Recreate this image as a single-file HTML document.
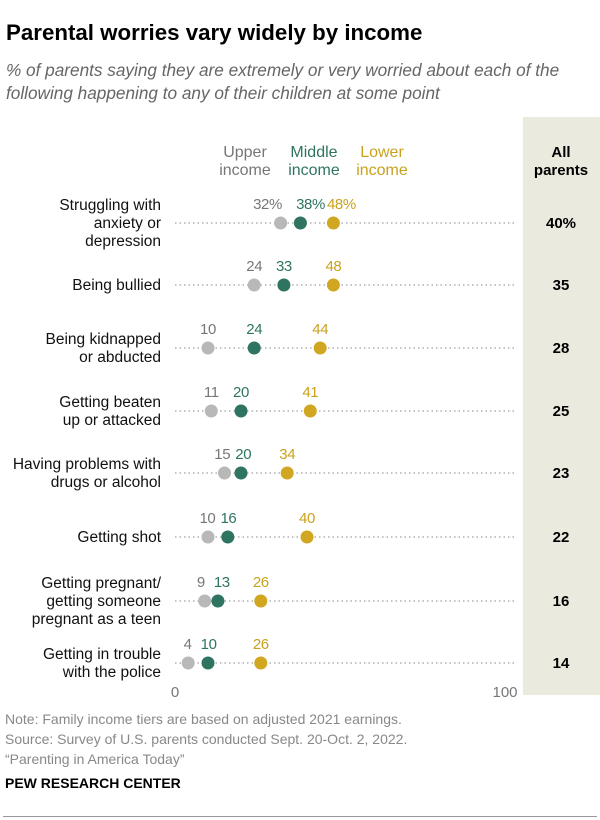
<!DOCTYPE html>
<html><head><meta charset="utf-8"><style>
body{margin:0;width:600px;height:820px;background:#fff;font-family:"Liberation Sans",sans-serif;position:relative;overflow:hidden}
.t{position:absolute;white-space:nowrap}
</style></head><body>
<div class="t" style="left:6px;top:20px;font-size:22.3px;font-weight:bold;color:#000">Parental worries vary widely by income</div>
<div class="t" style="left:6px;top:59px;font-size:17.2px;font-style:italic;color:#666;line-height:23px">% of parents saying they are extremely or very worried about each of the<br>following happening to any of their children at some point</div>
<div style="position:absolute;left:523px;top:117px;width:77px;height:578px;background:#ebeadf"></div>
<svg id="c" width="600" height="820" style="position:absolute;left:0;top:0"></svg>
<div class="t" style="left:5px;top:709px;font-size:14px;color:#888;line-height:20px">Note: Family income tiers are based on adjusted 2021 earnings.<br>Source: Survey of U.S. parents conducted Sept. 20-Oct. 2, 2022.<br>“Parenting in America Today”</div>
<div class="t" style="left:5px;top:775px;font-size:14px;font-weight:bold;color:#000">PEW RESEARCH CENTER</div>
<div style="position:absolute;left:3px;top:816px;width:594px;height:1px;background:#999"></div>
<script>
const categories=[["Struggling with","anxiety or","depression"],["Being bullied"],["Being kidnapped","or abducted"],["Getting beaten","up or attacked"],["Having problems with","drugs or alcohol"],["Getting shot"],["Getting pregnant/","getting someone","pregnant as a teen"],["Getting in trouble","with the police"]];
const upper=[32,24,10,11,15,10,9,4];
const middle=[38,33,24,20,20,16,13,10];
const lower=[48,48,44,41,34,40,26,26];
const allParents=[40,35,28,25,23,22,16,14];
const rowY=[223,285,348,411,473,537,601,663];
const NS="http://www.w3.org/2000/svg";
const svg=document.getElementById('c');
const x=v=>175+v*3.3;
function mk(tag,a,txt){const e=document.createElementNS(NS,tag);for(const k in a)e.setAttribute(k,a[k]);if(txt!=null)e.textContent=txt;svg.appendChild(e);return e;}
const colors=["#b8b8b8","#2f7461","#d1a620"];
const tcolors=["#777","#2f7461","#c9a21c"];
const legend=[["Upper","income"],["Middle","income"],["Lower","income"]];
const lx=[245,314,382];
legend.forEach((l,i)=>{const t=mk('text',{x:lx[i],y:157,'text-anchor':'middle','font-size':16,fill:tcolors[i]});


l.forEach((s,j)=>{const ts=document.createElementNS(NS,'tspan');ts.setAttribute('x',lx[i]);ts.setAttribute('dy',j?18:0);ts.textContent=s;t.appendChild(ts);});});
const h=mk('text',{x:561,y:157,'text-anchor':'middle','font-size':15,'font-weight':'bold',fill:'#000'});


["All","parents"].forEach((s,j)=>{const ts=document.createElementNS(NS,'tspan');ts.setAttribute('x',561);ts.setAttribute('dy',j?18:0);ts.textContent=s;h.appendChild(ts);});
categories.forEach((c,i)=>{
 const y=rowY[i];
 const ln=mk('line',{x1:175,x2:514,y1:y,y2:y,stroke:'#888','stroke-width':1,'stroke-dasharray':'1.5 3'});
 
 
 const lab=mk('text',{'text-anchor':'end','font-size':15.5,fill:'#111'});
 
 
 const n=c.length,start=y+5-(n-1)*9;
 c.forEach((s,j)=>{const ts=document.createElementNS(NS,'tspan');ts.setAttribute('x',161);ts.setAttribute('y',start+j*18);ts.textContent=s;lab.appendChild(ts);});
 const xs=[x(upper[i]),x(middle[i]),x(lower[i])];
 const lxs=xs.slice();
 const g=(i===0?38:21);
 if(lxs[1]-lxs[0]<g){const m=(lxs[0]+lxs[1])/2;lxs[0]=m-g/2-(i===0?4:0);lxs[1]=m+g/2;}
 if(i===0){lxs[1]+=1;lxs[2]+=8;}
 [upper,middle,lower].forEach((arr,k)=>{
  const d=mk('circle',{cx:xs[k],cy:y,r:6.5,fill:colors[k]});
  
  
  const t=mk('text',{x:lxs[k],y:y-14,'text-anchor':'middle','font-size':15,'letter-spacing':'-0.4',fill:tcolors[k]},arr[i]+(i===0?'%':''));
  
  
 });
 const a=mk('text',{x:561,y:y+5,'text-anchor':'middle','font-size':15,'font-weight':'bold',fill:'#000'},allParents[i]+(i===0?'%':''));
 
 
});
[0,100].forEach(v=>{const t=mk('text',{x:x(v),y:697,'text-anchor':'middle','font-size':15,fill:'#777'},v);

});
</script>
</body></html>
